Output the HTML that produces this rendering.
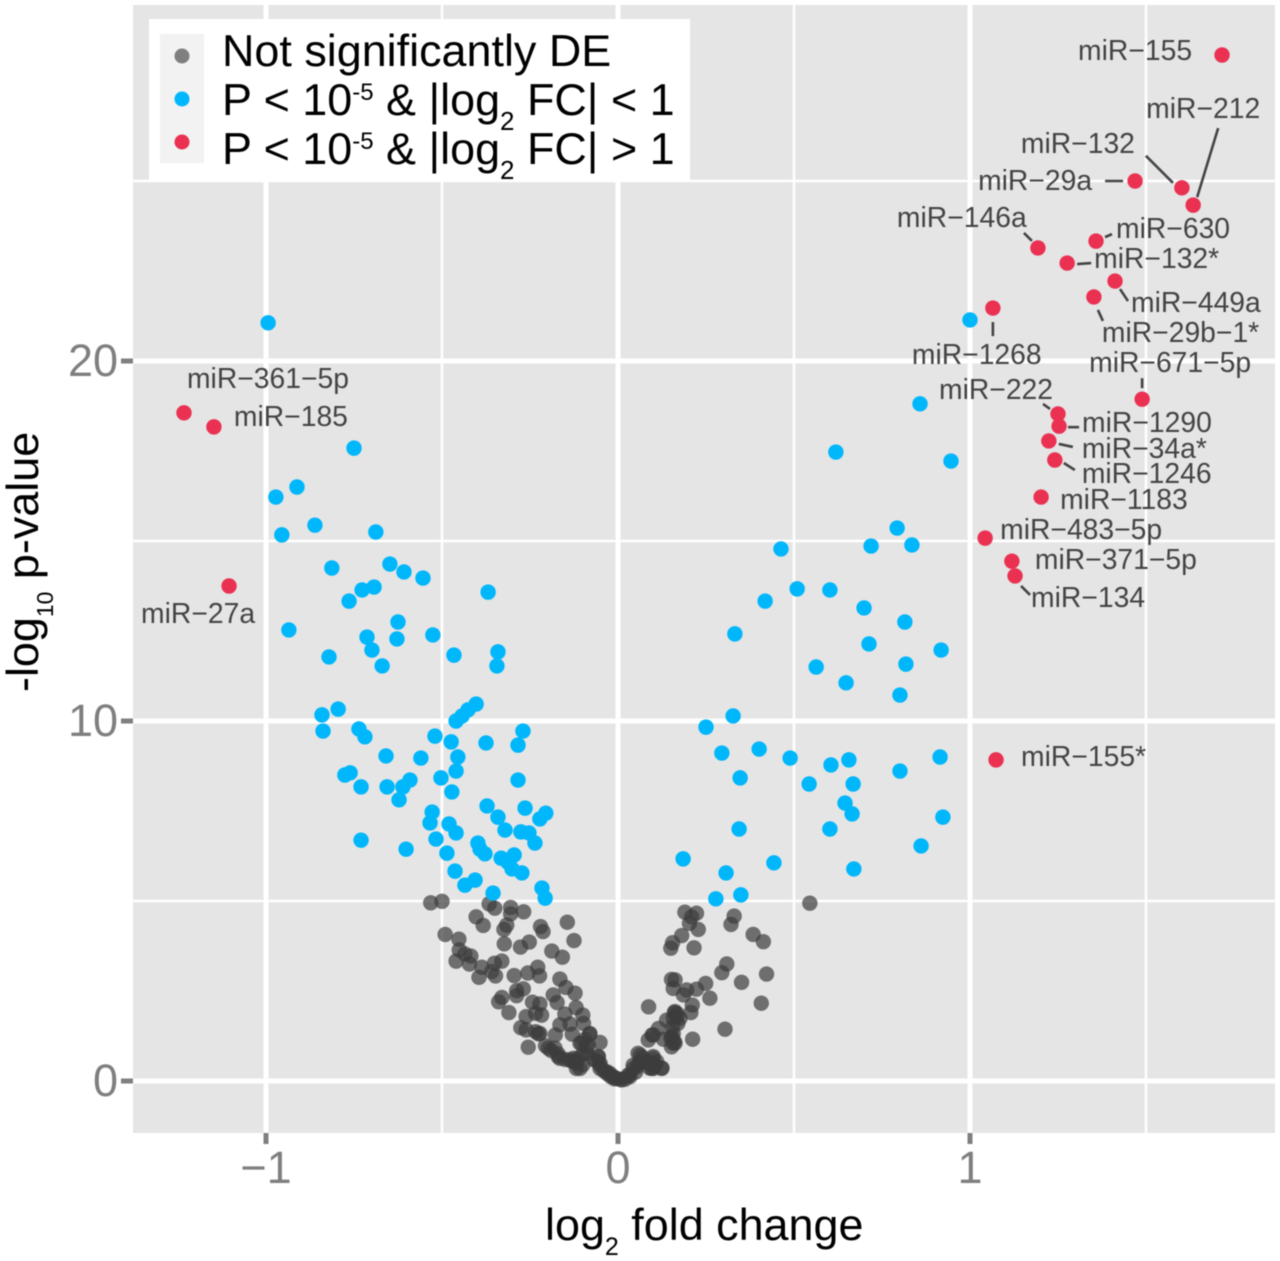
<!DOCTYPE html>
<html lang="en">
<head>
<meta charset="utf-8">
<title>Volcano plot of miRNA differential expression</title>
<style>
html,body{margin:0;padding:0;background:#fff}
svg{display:block;filter:blur(0.5px)}
text{font-family:"Liberation Sans",Arial,sans-serif}
.tick-label{font-size:45px;fill:#7f7f7f}
.axis-title{font-size:44.9px;fill:#000}
.legend-text{font-size:44.9px;fill:#000}
.mir-label{font-size:28.3px;fill:#444}
</style>
</head>
<body>
<svg id="chart" xmlns="http://www.w3.org/2000/svg" width="1280" height="1261" viewBox="0 0 1280 1261">
  <rect x="0" y="0" width="1280" height="1261" fill="#ffffff"/>
  <rect x="133" y="5" width="1142" height="1128" fill="#e5e5e5"/>
  <g id="grid"></g>
  <g id="axes"></g>
  <g id="grey-points"></g>
  <g id="blue-points"></g>
  <g id="red-points"></g>
  <g id="connectors"></g>
  <g id="labels"></g>

  <text class="axis-title" x="545" y="1240">log<tspan font-size="25" dy="15">2</tspan><tspan dy="-15"> fold change</tspan></text>
  <text class="axis-title" transform="translate(38,692) rotate(-90)">-log<tspan font-size="23" dy="15">10</tspan><tspan dy="-15"> p-value</tspan></text>

  <g>
    <rect x="149" y="19" width="541" height="161" fill="#ffffff"/>
    <rect x="160" y="34" width="44" height="129" fill="#f2f2f2"/>
    <circle cx="182" cy="56" r="7.5" fill="#7f7f7f"/>
    <circle cx="182" cy="99" r="7.5" fill="#00b7fb"/>
    <circle cx="182" cy="142" r="7.5" fill="#ea3152"/>
    <text class="legend-text" x="222" y="66">Not significantly DE</text>
    <text class="legend-text" x="222" y="115">P &lt; 10<tspan font-size="24" dy="-15">-5</tspan><tspan dy="15"> &amp; |log</tspan><tspan font-size="26" dy="15">2</tspan><tspan dy="-15"> FC| &lt; 1</tspan></text>
    <text class="legend-text" x="222" y="164">P &lt; 10<tspan font-size="24" dy="-15">-5</tspan><tspan dy="15"> &amp; |log</tspan><tspan font-size="26" dy="15">2</tspan><tspan dy="-15"> FC| &gt; 1</tspan></text>
  </g>
</svg>
<script>
// ---- chart data (log2 fold change, -log10 p-value) ----
const xTicks = [-1, 0, 1];
const xTickLabels = ["\u22121", "0", "1"];
const xMinorTicks = [-0.5, 0.5, 1.5];
const yTicks = [0, 10, 20];
const yTickLabels = ["0", "10", "20"];
const yMinorTicks = [5, 15, 25];

const greyLfc = [-0.532,-0.5,-0.366,-0.35,-0.305,-0.305,-0.268,-0.403,-0.383,-0.316,-0.324,-0.22,-0.213,-0.144,-0.491,-0.452,-0.125,-0.323,-0.252,-0.277,-0.451,-0.435,-0.418,-0.188,-0.158,-0.46,-0.422,-0.33,-0.351,-0.387,-0.359,-0.348,-0.395,-0.295,-0.256,-0.228,-0.223,-0.165,-0.269,-0.288,-0.288,-0.148,-0.122,-0.33,-0.339,-0.184,-0.173,-0.243,-0.222,-0.31,-0.119,-0.1,-0.151,-0.234,-0.217,-0.261,-0.136,-0.165,-0.098,-0.276,-0.261,-0.234,-0.226,-0.178,-0.08,-0.255,-0.108,-0.051,-0.206,-0.179,-0.165,-0.127,-0.108,-0.089,-0.056,-0.051,-0.051,-0.023,-0.004,0.01,0.034,0.044,0.063,0.063,0.1,0.11,0.124,0.096,0.087,0.162,0.152,0.157,0.186,0.195,0.223,0.249,0.261,0.211,0.207,0.162,0.167,0.176,0.138,0.115,0.1,0.086,0.129,0.157,0.157,0.152,0.212,0.304,0.407,0.351,0.422,0.295,0.309,0.216,0.15,0.155,0.181,0.228,0.203,0.209,0.19,0.223,0.33,0.321,0.384,0.413,0.545,-0.19,-0.17,-0.15,-0.13,-0.12,-0.1,-0.09,-0.095,-0.1,-0.07,-0.06,-0.04,-0.03,-0.02,-0.01,-0.13,0.02,0.03,0.05,0.055,0.06,0.07,0.08,0.09,0.105,0.1,0.15,0.16,0.155,0.17,0.16,-0.08,-0.103,-0.084,-0.113,-0.056,-0.051,-0.032,-0.013,0.006,0.03,0.043,0.057,0.1,0.105,0.09,0.125,-0.222,-0.198,-0.17,-0.118,-0.136,0.153,0.162,0.157,0.167,0.097];
const greyLogP = [4.95,4.99,4.92,4.8,4.82,4.64,4.7,4.56,4.32,4.33,4.21,4.29,4.15,4.41,4.07,3.94,3.9,3.81,3.86,3.72,3.64,3.53,3.47,3.61,3.44,3.33,3.25,3.33,3.27,3.16,3.04,2.92,2.88,2.93,3.0,3.16,2.92,2.83,2.56,2.51,2.37,2.6,2.44,2.32,2.2,2.39,2.18,2.19,2.14,1.9,2.04,1.83,1.86,1.88,1.83,1.79,1.58,1.56,1.6,1.48,1.42,1.37,1.31,1.28,1.3,0.94,1.05,1.07,0.98,0.91,0.63,0.63,0.35,0.77,0.68,0.49,0.35,0.21,0.07,0.03,0.12,0.35,0.72,0.54,0.68,0.54,0.35,0.35,2.06,2.81,2.82,2.57,2.39,2.53,2.55,2.71,2.3,2.11,1.9,1.93,1.79,1.74,1.69,1.46,1.28,1.14,1.16,1.32,1.05,0.95,1.16,1.44,2.16,2.74,2.97,3.01,3.25,3.7,3.69,3.84,4.04,4.21,4.38,4.56,4.69,4.66,4.58,4.35,4.07,3.87,4.94,0.85,0.75,0.6,0.55,0.5,0.75,0.95,1.15,0.45,0.6,0.55,0.28,0.2,0.12,0.06,1.3,0.05,0.15,0.25,0.4,0.5,0.65,0.55,0.5,0.45,0.35,1.2,1.1,1.5,1.6,1.9,1.32,1.05,1.0,0.63,0.68,0.44,0.26,0.12,0.05,0.17,0.44,0.77,0.63,0.44,0.36,0.36,1.32,0.91,0.68,0.35,0.58,1.23,1.05,1.75,1.88,1.28];

const blueLfc = [-0.994,-0.972,-0.912,-0.955,-0.861,-0.935,-0.75,-0.688,-0.813,-0.764,-0.727,-0.693,-0.648,-0.608,-0.554,-0.369,-0.625,-0.628,-0.713,-0.699,-0.821,-0.67,-0.526,-0.466,-0.341,-0.344,-0.841,-0.795,-0.838,-0.736,-0.719,-0.403,-0.426,-0.443,-0.46,-0.52,-0.474,-0.455,-0.375,-0.27,-0.284,-0.659,-0.56,-0.776,-0.761,-0.73,-0.656,-0.591,-0.611,-0.622,-0.503,-0.46,-0.472,-0.284,-0.528,-0.534,-0.48,-0.372,-0.341,-0.264,-0.205,-0.222,-0.321,-0.276,-0.253,-0.236,-0.73,-0.602,-0.517,-0.46,-0.398,-0.392,-0.378,-0.332,-0.295,-0.313,-0.486,-0.463,-0.301,-0.273,-0.435,-0.406,-0.355,-0.216,-0.207,1.0,0.858,0.619,0.946,0.793,0.835,0.719,0.463,0.509,0.602,0.418,0.699,0.815,0.332,0.713,0.918,0.563,0.818,0.648,0.801,0.25,0.327,0.295,0.401,0.489,0.656,0.605,0.915,0.801,0.347,0.543,0.668,0.645,0.665,0.602,0.344,0.923,0.861,0.185,0.443,0.67,0.307,0.349,0.278];
const blueLogP = [21.06,16.22,16.5,15.17,15.44,12.53,17.58,15.25,14.25,13.33,13.64,13.72,14.36,14.14,13.97,13.58,12.75,12.28,12.33,11.97,11.78,11.53,12.39,11.83,11.92,11.53,10.17,10.33,9.72,9.78,9.56,10.47,10.31,10.14,10.0,9.58,9.42,9.0,9.39,9.72,9.33,9.03,8.97,8.5,8.56,8.17,8.17,8.36,8.17,7.81,8.42,8.61,8.03,8.36,7.47,7.17,7.14,7.64,7.33,7.58,7.44,7.28,6.97,6.92,6.89,6.61,6.69,6.44,6.72,6.89,6.61,6.44,6.31,6.19,6.28,6.08,6.33,5.83,5.89,5.78,5.44,5.58,5.22,5.36,5.08,21.14,18.81,17.47,17.22,15.36,14.89,14.86,14.78,13.67,13.64,13.33,13.14,12.75,12.42,12.14,11.97,11.5,11.58,11.06,10.72,9.83,10.14,9.11,9.22,8.97,8.92,8.78,9.0,8.61,8.42,8.25,8.25,7.72,7.42,7.0,7.0,7.33,6.53,6.17,6.06,5.89,5.78,5.17,5.06];

const redNames = ["miR\u2212155","miR\u221229a","miR\u2212132","miR\u2212212","miR\u2212630","miR\u2212146a","miR\u2212132*","miR\u2212449a","miR\u221229b\u22121*","miR\u22121268","miR\u2212671\u22125p","miR\u2212222","miR\u22121290","miR\u221234a*","miR\u22121246","miR\u22121183","miR\u2212483\u22125p","miR\u2212371\u22125p","miR\u2212134","miR\u2212155*","miR\u2212361\u22125p","miR\u2212185","miR\u221227a"];
const redLfc = [1.716,1.469,1.602,1.634,1.358,1.193,1.276,1.412,1.352,1.065,1.489,1.25,1.253,1.224,1.241,1.202,1.043,1.119,1.128,1.074,-1.233,-1.148,-1.105];
const redLogP = [28.5,25.0,24.81,24.33,23.33,23.14,22.72,22.22,21.78,21.47,18.94,18.53,18.19,17.78,17.25,16.22,15.08,14.44,14.03,8.92,18.56,18.17,13.75];

// ---- label layout: offsets from each red point, in the same order ----
const labelOffsets = [[-144,5],[-157,9],[-161,-35],[-47,-87],[20,-3],[-141,-21],[27,5],[16,31],[8,45],[-81,56],[-53,-27],[-119,-15],[23,6],[33,17],[27,23],[19,12],[15,1],[23,8],[16,31],[25,6],[3,-25],[20,-1],[-88,37]];
const connectorOffsets = [null,[-30,0,-12,0],[-36,-32,-9,-5],[25,-77,4,-8],[9,-4,16,-7],[-14,-15,-6,-7],[10,1,24,0],[5,8,13,20],[4,13,9,24],[0,14,0,28],[0,-21,0,-11],[-15,-10,-8,-5],[9,1,20,1],[10,3,24,6],[9,3,20,10],null,null,null,[6,10,15,19],null,null,null,null];

// ---- axis functions ----
const PANEL = {left:133, right:1275, top:5, bottom:1133};
function xScale(v){ return 618 + v * 352; }
function yScale(v){ return 1081 - v * 36; }

const NS = "http://www.w3.org/2000/svg";
function make(tag, parent, attrs){
  const el = document.createElementNS(NS, tag);
  for (const k in attrs) el.setAttribute(k, attrs[k]);
  parent.appendChild(el);
  return el;
}

const grid = document.getElementById("grid");
const axes = document.getElementById("axes");

xMinorTicks.forEach(function(t){
  const el = make("line", grid, {x1:xScale(t), x2:xScale(t), y1:PANEL.top, y2:PANEL.bottom, stroke:"#fff", "stroke-width":2.5});
  
  
});
yMinorTicks.forEach(function(t){
  const el = make("line", grid, {x1:PANEL.left, x2:PANEL.right, y1:yScale(t), y2:yScale(t), stroke:"#fff", "stroke-width":2.5});
  
  
});
xTicks.forEach(function(t, i){
  const g = make("line", grid, {x1:xScale(t), x2:xScale(t), y1:PANEL.top, y2:PANEL.bottom, stroke:"#fff", "stroke-width":5});
  
  
  const m = make("line", axes, {x1:xScale(t), x2:xScale(t), y1:PANEL.bottom, y2:PANEL.bottom+11, stroke:"#7f7f7f", "stroke-width":5});
  
  
  const l = make("text", axes, {x:xScale(t), y:1183, "text-anchor":"middle", "class":"tick-label"});
  
  
  l.textContent = xTickLabels[i];
});
yTicks.forEach(function(t, i){
  const g = make("line", grid, {x1:PANEL.left, x2:PANEL.right, y1:yScale(t), y2:yScale(t), stroke:"#fff", "stroke-width":5});
  
  
  const m = make("line", axes, {x1:PANEL.left-12, x2:PANEL.left, y1:yScale(t), y2:yScale(t), stroke:"#7f7f7f", "stroke-width":5});
  
  
  const l = make("text", axes, {x:118, y:yScale(t)+15, "text-anchor":"end", "class":"tick-label"});
  
  
  l.textContent = yTickLabels[i];
});

const greyGroup = document.getElementById("grey-points");
greyLfc.forEach(function(v, i){
  const el = make("circle", greyGroup, {cx:xScale(v), cy:yScale(greyLogP[i]), r:7.7, fill:"#3c3c3c", "fill-opacity":0.7});
  
  
});
const blueGroup = document.getElementById("blue-points");
blueLfc.forEach(function(v, i){
  const el = make("circle", blueGroup, {cx:xScale(v), cy:yScale(blueLogP[i]), r:7.7, fill:"#00b7fb"});
  
  
});
const redGroup = document.getElementById("red-points");
const connectorGroup = document.getElementById("connectors");
const labelGroup = document.getElementById("labels");
redLfc.forEach(function(v, i){
  const cx = xScale(v), cy = yScale(redLogP[i]);
  const el = make("circle", redGroup, {cx:cx, cy:cy, r:7.7, fill:"#ea3152"});
  
  
  const off = labelOffsets[i];
  const t = make("text", labelGroup, {x:cx+off[0], y:cy+off[1], "class":"mir-label"});
  
  
  t.textContent = redNames[i];
  const c = connectorOffsets[i];
  if (c) {
    const s = make("line", connectorGroup, {x1:cx+c[0], y1:cy+c[1], x2:cx+c[2], y2:cy+c[3], stroke:"#444", "stroke-width":2.6});
    
    
  }
});
</script>
</body>
</html>
